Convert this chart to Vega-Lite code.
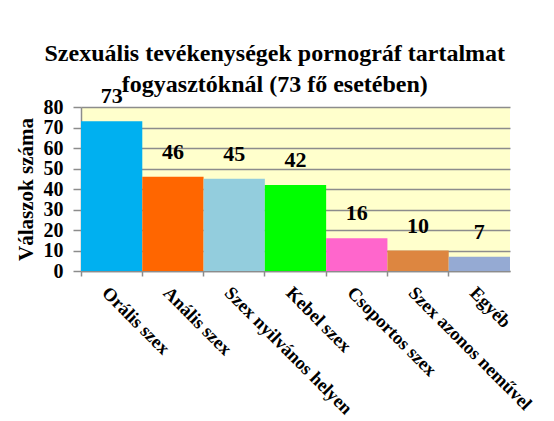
{
  "$schema": "https://vega.github.io/schema/vega-lite/v6.json",
  "width": 429,
  "height": 164,
  "autosize": "none",
  "padding": {"left": 81, "top": 107, "right": 44, "bottom": 150},
  "background": "white",
  "config": {
    "font": "Liberation Serif",
    "view": {"stroke": null, "fill": "#FFFFCC"}
  },
  "title": {
    "text": ["Szexuális tevékenységek pornográf tartalmat", "fogyasztóknál (73 fő esetében)"],
    "font": "Liberation Serif",
    "fontSize": 24,
    "fontWeight": "bold",
    "color": "black",
    "lineHeight": 31,
    "anchor": "middle",
    "frame": "bounds",
    "offset": 4,
    "dy": 16
  },
  "data": {
    "values": [
      {"kategoria": "Orális szex", "valasz": 73},
      {"kategoria": "Anális szex", "valasz": 46},
      {"kategoria": "Szex nyilvános helyen", "valasz": 45},
      {"kategoria": "Kebel szex", "valasz": 42},
      {"kategoria": "Csoportos szex", "valasz": 16},
      {"kategoria": "Szex azonos neművel", "valasz": 10},
      {"kategoria": "Egyéb", "valasz": 7}
    ]
  },
  "encoding": {
    "x": {
      "field": "kategoria",
      "type": "nominal",
      "sort": null,
      "scale": {"paddingInner": 0, "paddingOuter": 0},
      "axis": {
        "title": null,
        "labelAngle": 45,
        "labelAlign": "left",
        "labelBaseline": "top",
        "labelFont": "Liberation Serif",
        "labelFontSize": 18.5,
        "labelFontWeight": "bold",
        "labelColor": "black",
        "labelPadding": 7,
        "labelLimit": 300,
        "bandPosition": 0,
        "tickSize": 5,
        "tickColor": "#8c8c8c",
        "tickWidth": 1.5,
        "domainColor": "#8c8c8c",
        "domainWidth": 1.5
      }
    },
    "y": {
      "field": "valasz",
      "type": "quantitative",
      "scale": {"domain": [0, 80]},
      "axis": {
        "title": "Válaszok száma",
        "titleFont": "Liberation Serif",
        "titleFontSize": 21,
        "titleFontWeight": "bold",
        "titleColor": "black",
        "titlePadding": 7,
        "values": [0, 10, 20, 30, 40, 50, 60, 70, 80],
        "labelFont": "Liberation Serif",
        "labelFontSize": 20,
        "labelFontWeight": "bold",
        "labelColor": "black",
        "labelPadding": 10,
        "tickSize": 8,
        "tickColor": "#8c8c8c",
        "tickWidth": 1.5,
        "domainColor": "#8c8c8c",
        "domainWidth": 1.5,
        "grid": true,
        "gridColor": "#8c8c8c",
        "gridWidth": 1.5
      }
    }
  },
  "layer": [
    {
      "mark": {"type": "bar"},
      "encoding": {
        "color": {
          "field": "kategoria",
          "type": "nominal",
          "sort": null,
          "legend": null,
          "scale": {
            "domain": ["Orális szex", "Anális szex", "Szex nyilvános helyen", "Kebel szex", "Csoportos szex", "Szex azonos neművel", "Egyéb"],
            "range": ["#00B0F0", "#FF6600", "#93CDDD", "#00FF00", "#FF66CC", "#DD8640", "#95AAD3"]
          }
        }
      }
    },
    {
      "mark": {
        "type": "text",
        "font": "Liberation Serif",
        "fontSize": 22,
        "fontWeight": "bold",
        "color": "black",
        "baseline": "alphabetic",
        "dy": -18
      },
      "encoding": {
        "text": {"field": "valasz", "type": "quantitative"}
      }
    }
  ]
}
